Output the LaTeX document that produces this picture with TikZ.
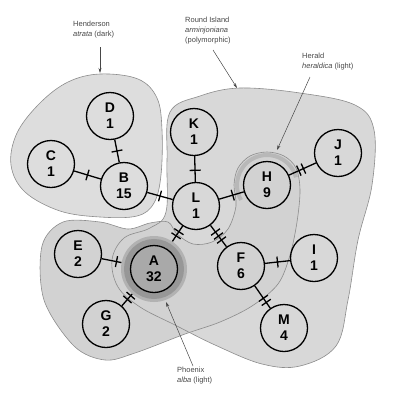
\documentclass[tikz,border=0pt]{standalone}
\usepackage{fontspec}
\setmainfont{Liberation Sans}
\usetikzlibrary{decorations.markings,arrows.meta}
\definecolor{regfill}{HTML}{D8D8D8}
\definecolor{henfill}{HTML}{DDDDDD}
\definecolor{lightfill}{HTML}{D2D2D2}
\definecolor{regline}{HTML}{8C8C8C}
\definecolor{haloout}{HTML}{B2B2B2}
\definecolor{haloin}{HTML}{979797}
\definecolor{acore}{HTML}{A9A9A9}
\definecolor{band}{HTML}{B8B8B8}
\begin{document}
\begin{tikzpicture}[x=1pt,y=-1pt,
  hap/.style={circle,draw=black,line width=1.3pt,minimum size=47pt,inner sep=0pt,align=center,
    font=\fontsize{14}{16}\selectfont\bfseries},
  edge/.style={line width=1.3pt},
  tickline/.style={line width=1.3pt},
  tA/.style={postaction={decorate},decoration={markings,mark=at position #1 with {\draw[tickline] (0pt,-5.5pt)--(0pt,5.5pt);}}},
  tB/.style={postaction={decorate},decoration={markings,mark=at position #1 with {\draw[tickline] (-2.5pt,-5.5pt)--(-2.5pt,5.5pt) (2.5pt,-5.5pt)--(2.5pt,5.5pt);}}},
  tC/.style={postaction={decorate},decoration={markings,mark=at position #1 with {\draw[tickline] (-5pt,-5.5pt)--(-5pt,5.5pt) (0pt,-5.5pt)--(0pt,5.5pt) (5pt,-5.5pt)--(5pt,5.5pt);}}},
  region/.style={draw=regline,line width=0.6pt},
  lab/.style={align=left,anchor=north west,inner sep=0pt,text=black!72,font=\fontsize{7.5}{10}\selectfont},
  arr/.style={line width=0.5pt,draw=black!72,-{Stealth[length=5pt,width=3pt]}}
]
\useasboundingbox (0,0) rectangle (415,405);
% regions: fills
\fill[regfill] plot[smooth cycle,tension=0.6] coordinates {(170,112) (200,96) (240,88) (300,93) (355,105) (374,130) (372,185) (358,240) (348,300) (336,346) (300,366) (262,364) (215,345) (175,325) (140,307) (118,287) (112,260) (124,238) (150,228) (166,212) (167,160)};
\fill[lightfill] plot[smooth cycle,tension=0.55] coordinates {(63,222) (42,246) (44,300) (74,346) (105,360) (135,353) (185,334) (220,322) (252,306) (278,284) (290,255) (297,222) (300,190) (296,168) (284,156) (267,152) (250,156) (238,168) (234,185) (236,206) (228,229) (212,242) (193,244) (177,234) (168,222) (150,223) (128,229) (100,222)};
\fill[henfill] plot[smooth cycle,tension=0.6] coordinates {(100,74) (138,79) (157,98) (162,130) (161,175) (154,203) (137,216) (100,217) (60,211) (25,192) (11,165) (17,133) (40,103) (68,82)};
% Herald band around H
\draw[line width=4pt,color=band] (267,185) ++(150:30) arc[start angle=150,end angle=345,radius=30];
% regions: outlines
\draw[region] plot[smooth cycle,tension=0.6] coordinates {(170,112) (200,96) (240,88) (300,93) (355,105) (374,130) (372,185) (358,240) (348,300) (336,346) (300,366) (262,364) (215,345) (175,325) (140,307) (118,287) (112,260) (124,238) (150,228) (166,212) (167,160)};
\draw[region] plot[smooth cycle,tension=0.55] coordinates {(63,222) (42,246) (44,300) (74,346) (105,360) (135,353) (185,334) (220,322) (252,306) (278,284) (290,255) (297,222) (300,190) (296,168) (284,156) (267,152) (250,156) (238,168) (234,185) (236,206) (228,229) (212,242) (193,244) (177,234) (168,222) (150,223) (128,229) (100,222)};
\draw[region] plot[smooth cycle,tension=0.6] coordinates {(100,74) (138,79) (157,98) (162,130) (161,175) (154,203) (137,216) (100,217) (60,211) (25,192) (11,165) (17,133) (40,103) (68,82)};
% halo of A
\node[circle,fill=haloout,minimum size=66pt,inner sep=0pt] (A) at (154,269) {};
\draw[haloin,line width=6pt] (A.center) circle[radius=27];
% haplotype nodes
\node[hap] (D) at (110,116) {D\\1};
\node[hap] (C) at (51,164) {C\\1};
\node[hap] (B) at (124,186) {B\\15};
\node[hap] (K) at (194,132) {K\\1};
\node[hap] (L) at (196,206) {L\\1};
\node[hap] (H) at (267,185) {H\\9};
\node[hap] (J) at (338,153) {J\\1};
\node[hap] (I) at (314,258) {I\\1};
\node[hap] (F) at (241,266) {F\\6};
\node[hap] (M) at (284,328) {M\\4};
\node[hap] (G) at (106,324) {G\\2};
\node[hap] (E) at (78,254) {E\\2};
\node[hap,fill=acore] (Ac) at (A.center) {A\\32};
% connectors
\draw[edge,tA=0.5] (D) -- (B);
\draw[edge,tA=0.5] (C) -- (B);
\draw[edge,tA=0.5] (B) -- (L);
\draw[edge,tA=0.55] (K) -- (L);
\draw[edge,tA=0.55] (L) -- (H);
\draw[edge,tB=0.45] (H) -- (J);
\draw[edge,tB=0.5] (L) -- (A);
\draw[edge,tC=0.5] (L) -- (F);
\draw[edge,tA=0.5] (F) -- (I);
\draw[edge,tB=0.65] (F) -- (M);
\draw[edge,tA=0.75] (E) -- (A);
\draw[edge,tB=0.7] (G) -- (A);
% labels
\node[lab] (hen) at (73,21) {Henderson\\\textit{atrata} (dark)};
\node[lab] (rou) at (185,17) {Round Island\\\textit{arminjoniana}\\(polymorphic)};
\node[lab] (her) at (302,53) {Herald\\\textit{heraldica} (light)};
\node[lab] (pho) at (177,367) {Phoenix\\\textit{alba} (light)};
\coordinate (henS) at (100,47);
\coordinate (henT) at (100,73);
\coordinate (rouS) at (213,50);
\coordinate (rouT) at (237,88);
\coordinate (herS) at (310,77);
\coordinate (herT) at (277,150);
\coordinate (phoS) at (193,366);
\coordinate (phoT) at (166,302);
\draw[arr] (henS) -- (henT);
\draw[arr] (rouS) -- (rouT);
\draw[arr] (herS) -- (herT);
\draw[arr] (phoS) -- (phoT);
\end{tikzpicture}
\end{document}
